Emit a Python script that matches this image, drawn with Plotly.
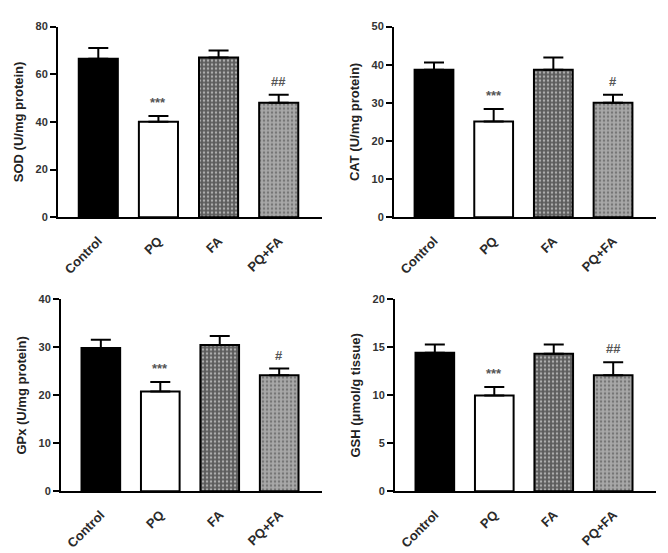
import plotly.graph_objects as go

categories = ["Control", "PQ", "FA", "PQ+FA"]

sod_mean = [66.5, 40.1, 67.0, 48.0]
sod_err = [4.5, 2.4, 3.0, 3.4]
cat_mean = [38.7, 25.1, 38.7, 30.0]
cat_err = [1.9, 3.3, 3.2, 2.1]
gpx_mean = [29.9, 20.8, 30.5, 24.2]
gpx_err = [1.7, 2.0, 1.9, 1.4]
gsh_mean = [14.45, 9.98, 14.35, 12.1]
gsh_err = [0.85, 0.9, 0.95, 1.35]

sod_sig = ["", "***", "", "##"]
cat_sig = ["", "***", "", "#"]
gpx_sig = ["", "***", "", "#"]
gsh_sig = ["", "***", "", "##"]

panels = [
    dict(mean=sod_mean, err=sod_err, sig=sod_sig, title="SOD (U/mg protein)", ymax=80, dtick=20),
    dict(mean=cat_mean, err=cat_err, sig=cat_sig, title="CAT (U/mg protein)", ymax=50, dtick=10),
    dict(mean=gpx_mean, err=gpx_err, sig=gpx_sig, title="GPx (U/mg protein)", ymax=40, dtick=10),
    dict(mean=gsh_mean, err=gsh_err, sig=gsh_sig, title="GSH (μmol/g tissue)", ymax=20, dtick=5),
]

W, H = 668, 553
# pixel boxes: (left, right, top, bottom)
boxes = [(58, 322, 21, 216), (394, 656, 21, 216), (61, 322, 300, 496), (395, 656, 300, 496)]

bar_colors = ["#000000", "#ffffff", "#5c5c5c", "#a8a8a8"]
pat_shapes = ["", "", ".", "."]
pat_fg = ["#000000", "#ffffff", "#858585", "#d2d2d2"]

FONT = "Liberation Sans, Arial, sans-serif"
fig = go.Figure()
layout = dict(width=W, height=H, margin=dict(l=0, r=0, t=0, b=0),
              paper_bgcolor="white", plot_bgcolor="white", showlegend=False)
annotations = []
for i, (p, b) in enumerate(zip(panels, boxes)):
    xa = "x" if i == 0 else f"x{i+1}"
    ya = "y" if i == 0 else f"y{i+1}"
    fig.add_trace(go.Bar(
        x=categories, y=p["mean"], xaxis=xa, yaxis=ya, width=0.65,
        marker=dict(color=bar_colors, line=dict(color="black", width=2),
                    pattern=dict(shape=pat_shapes, fgcolor=pat_fg, size=4, solidity=0.3)),
        error_y=dict(type="data", array=p["err"], arrayminus=[0] * 4, symmetric=False,
                     color="black", thickness=2, width=10),
    ))
    l, r, t, bt = b
    xkey = "xaxis" if i == 0 else f"xaxis{i+1}"
    ykey = "yaxis" if i == 0 else f"yaxis{i+1}"
    layout[xkey] = dict(domain=[l / W, r / W], anchor=ya, range=[-0.67, 3.72],
                        showline=True, linecolor="black", linewidth=2, ticks="",
                        tickangle=-45, showgrid=False, zeroline=False, ticklabelstandoff=9,
                        tickfont=dict(family=FONT, size=13, color="#2a2a2a", weight="bold"))
    layout[ykey] = dict(domain=[1 - bt / H, 1 - t / H], anchor=xa, range=[0, p["ymax"]],
                        dtick=p["dtick"], showline=True, linecolor="black", linewidth=2,
                        ticks="outside", ticklen=6, tickwidth=2, tickcolor="black",
                        showgrid=False, zeroline=False,
                        tickfont=dict(family=FONT, size=11, color="#333333", weight="bold"),
                        title=dict(text=p["title"], standoff=9,
                                   font=dict(family=FONT, size=13, color="#222222", weight="bold")))
    for c, m, e, s in zip(categories, p["mean"], p["err"], p["sig"]):
        if s:
            annotations.append(dict(x=c, y=m + e, xref=xa, yref=ya, text=s, showarrow=False,
                                    yanchor="bottom", yshift=4,
                                    font=dict(family=FONT, size=13, color="#555555", weight="bold")))
layout["annotations"] = annotations
fig.update_layout(**layout)
fig.write_html("out.html")
